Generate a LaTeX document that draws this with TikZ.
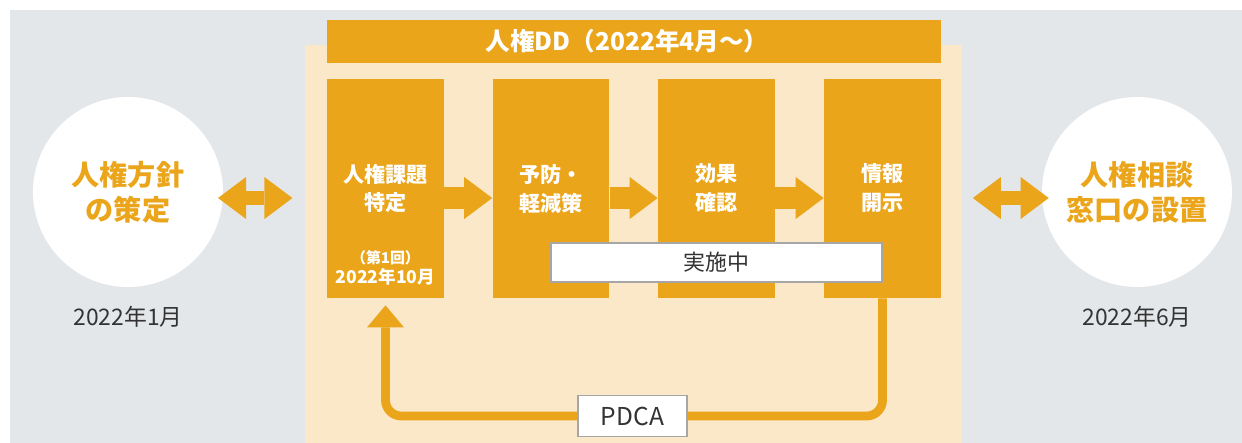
\documentclass[tikz,border=0pt]{standalone}
\usepackage{fontspec}
\setmainfont{Noto Sans CJK JP}
\usetikzlibrary{arrows.meta}

\definecolor{ddorange}{HTML}{EAA51B}
\definecolor{ddcream}{HTML}{FBE8C8}
\definecolor{ddgrey}{HTML}{E4E7EA}
\definecolor{ddtext}{HTML}{333333}

\begin{document}
\begin{tikzpicture}[
  x=0.02cm, y=-0.02cm,
  panel/.style={rectangle, inner sep=0pt},
  stepbox/.style={rectangle, fill=ddorange, inner sep=0pt, minimum width=2.34cm, minimum height=4.38cm,
    text=white, align=center, font=\fontsize{12}{16.5}\selectfont\bfseries},
  goal/.style={circle, fill=white, inner sep=0pt, minimum size=3.8cm, text=ddorange, align=center,
    font=\fontsize{16}{20}\selectfont\bfseries},
  datelabel/.style={text=ddtext, font=\fontsize{13}{15}\selectfont},
  tag/.style={rectangle, fill=white, draw=black!35, line width=0.7pt, inner sep=0pt, text=ddtext},
  flow/.style={ddorange, line width=12.5pt, -{Triangle[width=24pt, length=16pt, line width=0pt]}},
  link/.style={ddorange, line width=8pt, {Triangle[width=24pt, length=16pt, line width=0pt]}-{Triangle[width=24pt, length=16pt, line width=0pt]}},
  cycle/.style={ddorange, line width=5pt, rounded corners=9pt, -{Triangle[width=21pt, length=12.5pt, line width=0pt]}}
]
\useasboundingbox (0,0) rectangle (1242,443);

% backgrounds
\fill[ddgrey] (10,10) rectangle (1242,443);
\node[panel, fill=ddcream, minimum width=13.14cm, minimum height=7.96cm] (dd) at (633.5,244) {};
\node[panel, fill=ddorange, minimum width=12.28cm, minimum height=0.86cm] (ddhead) at (634,41.5) {};
\node[text=white, font=\fontsize{14}{16}\selectfont\bfseries] (ddtitle) at (627,41.5) {人権DD（2022年4月〜）};

% steps of the DD
\node[stepbox] (issues) at (385.5,188.5) {人権課題\\特定};
\node[stepbox] (prevent) at (551,188.5) {予防・\\軽減策};
\node[stepbox] (check) at (716.5,188.5) {効果\\確認};
\node[stepbox] (disclose) at (882.5,188.5) {情報\\開示};
\node[text=white, align=center, font=\fontsize{10}{11.5}\selectfont\bfseries] (first) at (385.5,268)
  {{\fontsize{8.5}{11.5}\selectfont（第1回）}\\2022年10月};

\coordinate (row) at (0,198);
\draw[flow] (issues.east |- row) -- (prevent.west |- row);
\draw[flow] (prevent.east |- row) -- (check.west |- row);
\draw[flow] (check.east |- row) -- (disclose.west |- row);

\node[tag, minimum width=6.62cm, minimum height=0.78cm, font=\fontsize{12.5}{14}\selectfont] (ongoing) at (716.5,262.5) {実施中};

% PDCA loop
\coordinate (loopturn) at (632.5,416);
\draw[cycle, shorten >=4pt] (disclose.south) |- (loopturn) -| (issues.south);
\node[tag, minimum width=2.18cm, minimum height=0.82cm, font=\fontsize{14}{16}\selectfont] (pdca) at (loopturn) {PDCA};

% policy and desk
\node[goal] (policy) at (128,192) {人権方針\\の策定};
\node[goal] (desk) at (1137,192) {人権相談\\窓口の設置};
\node[datelabel] (policydate) at (128,317) {2022年1月};
\node[datelabel] (deskdate) at (1137,317) {2022年6月};

\draw[link, shorten <=-3pt, shorten >=7pt] (policy.east |- row) -- (dd.west |- row);
\draw[link, shorten <=6pt, shorten >=-4pt] (dd.east |- row) -- (desk.west |- row);

\end{tikzpicture}
\end{document}
